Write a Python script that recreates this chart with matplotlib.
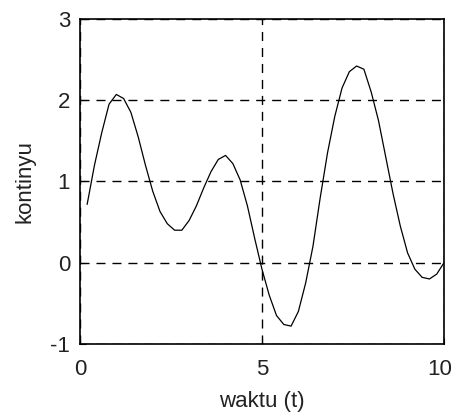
import matplotlib
matplotlib.use("Agg")
import matplotlib.pyplot as plt
from matplotlib.transforms import ScaledTranslation

t = [0.2, 0.4, 0.6, 0.8, 1.0, 1.2, 1.4, 1.6, 1.8, 2.0,
     2.2, 2.4, 2.6, 2.8, 3.0, 3.2, 3.4, 3.6, 3.8, 4.0,
     4.2, 4.4, 4.6, 4.8, 5.0, 5.2, 5.4, 5.6, 5.8, 6.0,
     6.2, 6.4, 6.6, 6.8, 7.0, 7.2, 7.4, 7.6, 7.8, 8.0,
     8.2, 8.4, 8.6, 8.8, 9.0, 9.2, 9.4, 9.6, 9.8, 10.0]
kontinyu = [0.72, 1.20, 1.60, 1.95, 2.07, 2.02, 1.85, 1.55, 1.20, 0.88,
            0.63, 0.48, 0.40, 0.40, 0.52, 0.70, 0.92, 1.12, 1.27, 1.32,
            1.22, 1.02, 0.70, 0.30, -0.08, -0.40, -0.65, -0.76, -0.78, -0.60,
            -0.25, 0.20, 0.80, 1.35, 1.80, 2.15, 2.35, 2.42, 2.38, 2.10,
            1.75, 1.30, 0.85, 0.45, 0.12, -0.08, -0.18, -0.20, -0.14, 0.0]
xticks = [0, 5, 10]
yticks = [-1, 0, 1, 2, 3]

plt.rcParams['font.family'] = ['Liberation Sans', 'DejaVu Sans']
plt.rcParams['axes.unicode_minus'] = False

fig = plt.figure(figsize=(4.54, 4.19), dpi=100)
ax = fig.add_axes([0.176, 0.179, 0.802, 0.776])
ax.plot(t, kontinyu, color='black', linewidth=0.9)

ax.set_xlim(0, 10)
ax.set_ylim(-1, 3)
ax.set_xticks(xticks)
ax.set_yticks(yticks)
ax.grid(True, color='black', linestyle=(0, (6.5, 5)), linewidth=1.0)
ax.tick_params(direction='in', length=4, labelsize=16, labelcolor='#222222')
ax.tick_params(axis='x', pad=11)
ax.tick_params(axis='y', pad=7)
for s in ax.spines.values():
    s.set_linewidth(1.2)

ax.set_xlabel("waktu (t)", fontsize=16, labelpad=8, color='#222222')
ax.set_ylabel("kontinyu", fontsize=16, labelpad=11, color='#222222')

# "10" sits a little left of its tick so it stays inside the figure
lab = ax.xaxis.get_major_ticks()[-1].label1
lab.set_transform(lab.get_transform() + ScaledTranslation(-4 / 100, 0, fig.dpi_scale_trans))

fig.savefig("out.png", dpi=100)
